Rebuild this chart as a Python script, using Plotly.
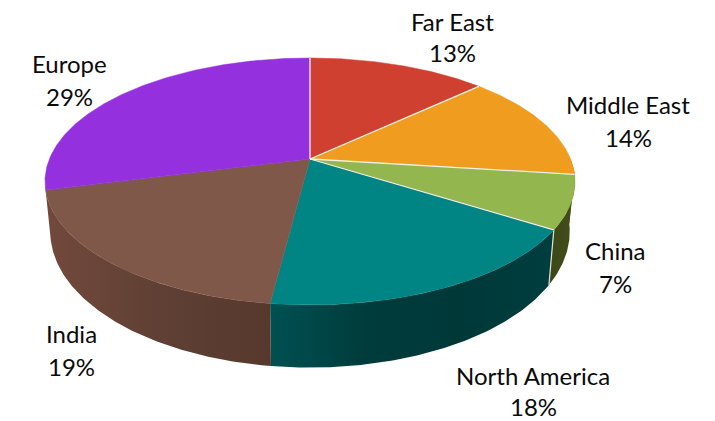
import math
import plotly.graph_objects as go

# ---- data ----
categories = ["Far East", "Middle East", "China", "North America", "India", "Europe"]
values = [13, 14, 7, 18, 19, 29]
top_colors = ["#D04030", "#F09C1E", "#93B64E", "#008484", "#80584A", "#9530DE"]
wall_stops = [
    ["#7a2015", "#7a2015"],
    ["#7a4f0c", "#7a4f0c"],
    ["#3c4718", "#434e1c"],
    ["#005052", "#003c3c", "#003838", "#003e3f"],
    ["#72493c", "#604034", "#56382d"],
    ["#4a1470", "#4a1470"],
]
label_x = [452, 628, 615, 533, 71, 69]
name_y = [21, 104, 250, 375, 333, 63]
pct_y = [52, 137, 283, 406, 366, 96]

# ---- projection of the tilted disc ----
CX, CY = 310, 159
A, B, P = 260.6, 119.4, 0.182
S_X, S_Y, DROP = 0.98, 1.10, 48


def rim(theta):
    w = 1 + P * math.cos(theta)
    return A * math.sin(theta) / w, -B * math.cos(theta) / w


def top(theta):
    dx, dy = rim(theta)
    return CX + dx, CY + dy


def bottom(theta):
    dx, dy = rim(theta)
    return CX + S_X * dx, CY + DROP + S_Y * dy


def arc(fn, a, b, step=0.01):
    n = max(2, int(abs(b - a) / step))
    pts = [fn(a + (b - a) * i / n) for i in range(n + 1)]
    return [p[0] for p in pts], [p[1] for p in pts]


total = sum(values)
cum = [0]
for v in values:
    cum.append(cum[-1] + v)
angles = [2 * math.pi * c / total for c in cum]

fig = go.Figure()

# side walls: only China, North America and India show in the reference
vis_a, vis_b = math.pi / 2, angles[5]
for i in range(len(values)):
    a, b = max(angles[i], vis_a), min(angles[i + 1], vis_b)
    if a >= b:
        continue
    tx, ty = arc(top, a, b)
    bx, by = arc(bottom, a, b)
    stops = wall_stops[i]
    # gradient runs left to right on screen
    scale = [[k / (len(stops) - 1), c] for k, c in enumerate(stops)]
    fig.add_trace(go.Scatter(
        x=tx + bx[::-1], y=ty + by[::-1], mode="lines", fill="toself",
        line=dict(width=0, color=stops[0]),
        fillgradient=dict(type="horizontal", colorscale=scale),
        hoverinfo="skip", showlegend=False))

# white seam on the wall between China and North America
sx, sy = top(angles[3]), bottom(angles[3])
fig.add_trace(go.Scatter(x=[sx[0], sy[0]], y=[sx[1], sy[1]], mode="lines",
                         line=dict(color="#dfe3d5", width=1.2),
                         hoverinfo="skip", showlegend=False))

# top face
for i, name in enumerate(categories):
    ax, ay = arc(top, angles[i], angles[i + 1])
    fig.add_trace(go.Scatter(
        x=[CX] + ax + [CX], y=[CY] + ay + [CY], mode="lines", fill="toself",
        fillcolor=top_colors[i], line=dict(width=0.5, color=top_colors[i]),
        name=name, hoverinfo="skip", showlegend=False))

# light separators on the right-hand slices
for k in range(0, 4):
    px, py = top(angles[k])
    fig.add_trace(go.Scatter(x=[CX, px], y=[CY, py], mode="lines",
                             line=dict(color="#f4efe6", width=1.3),
                             hoverinfo="skip", showlegend=False))

# labels
for i, name in enumerate(categories):
    for text, y in ((name, name_y[i]), (f"{values[i]}%", pct_y[i])):
        fig.add_annotation(x=label_x[i], y=y, text=text, showarrow=False,
                           xanchor="center", yanchor="middle",
                           font=dict(family="Lato", size=24, color="#0a0a0a"))

fig.update_layout(
    width=715, height=421, margin=dict(l=0, r=0, t=0, b=0),
    paper_bgcolor="white", plot_bgcolor="white", showlegend=False,
    xaxis=dict(range=[0, 715], visible=False, fixedrange=True),
    yaxis=dict(range=[421, 0], visible=False, fixedrange=True),
)
fig.write_html("out.html", config={"displayModeBar": False},
               post_script="document.body.style.margin='0';document.body.style.overflow='hidden';")
